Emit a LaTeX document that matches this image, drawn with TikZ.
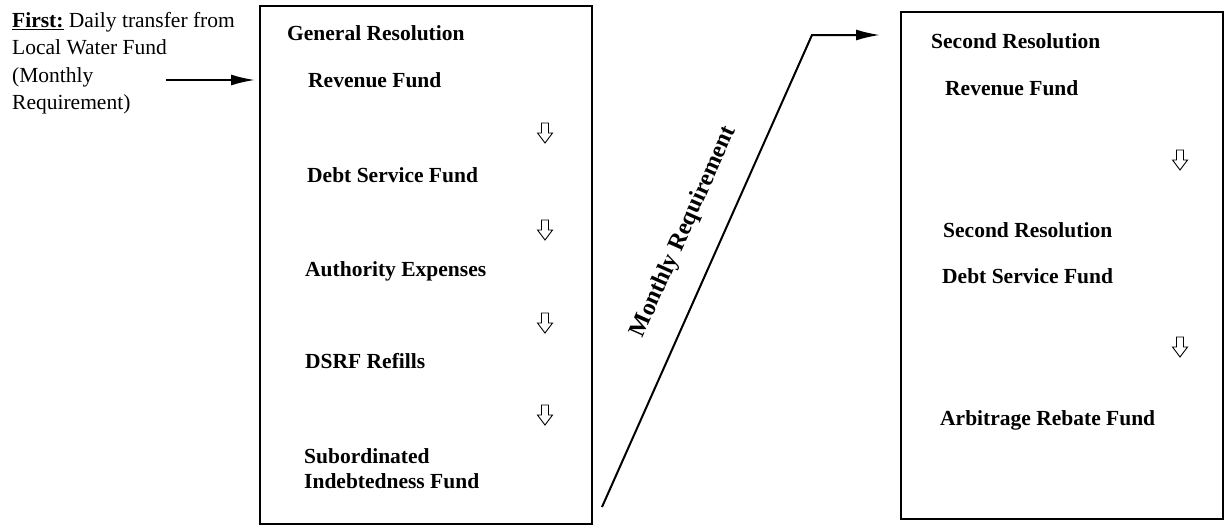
\documentclass[tikz,border=0pt]{standalone}
\usepackage{fontspec}
\setmainfont{Liberation Serif}
\usetikzlibrary{arrows.meta}
\tikzset{
  fundbox/.style={draw,line width=2pt,minimum width=#1,anchor=north west,inner sep=0pt},
  fundlabel/.style={font=\bfseries\fontsize{21.5}{25}\selectfont,anchor=base west,inner sep=0pt},
  flow/.style={line width=2pt,-{Latex[length=24pt,width=11pt]}},
  dnarrow/.pic={\draw[line width=0.9pt,fill=white] (-3.5,-10) -- (3.5,-10) -- (3.5,0) -- (7.5,0) -- (0,10) -- (-7.5,0) -- (-3.5,0) -- cycle;}
}
\begin{document}
\begin{tikzpicture}[x=1pt,y=-1pt]
  \useasboundingbox (0,0) rectangle (1227,531);
  % source text
  \node[align=left,anchor=north west,inner sep=0pt,font=\fontsize{21.5}{27.5}\selectfont] (first) at (12,12)
    {\underline{\textbf{First:}} Daily transfer from\\Local Water Fund\\(Monthly\\Requirement)};
  \coordinate (feed) at (166,80);
  % general resolution
  \node[fundbox=332pt,minimum height=518pt] (genres) at (259,5) {};
  \node[fundlabel] (gtitle) at (287,40) {General Resolution};
  \node[fundlabel] (grev) at (308,87) {Revenue Fund};
  \node[fundlabel] (gdebt) at (307,182) {Debt Service Fund};
  \node[fundlabel] (gauth) at (305,276) {Authority Expenses};
  \node[fundlabel] (gdsrf) at (305,368) {DSRF Refills};
  \node[fundlabel,align=left,anchor=north west] (gsub) at (304,448) {Subordinated\\Indebtedness Fund};
  \pic (ga1) at (545,133) {dnarrow};
  \pic (ga2) at (545,230) {dnarrow};
  \pic (ga3) at (545,323) {dnarrow};
  \pic (ga4) at (545,415) {dnarrow};
  % second resolution
  \node[fundbox=322pt,minimum height=507pt] (secres) at (900,11) {};
  \node[fundlabel] (stitle) at (931,48) {Second Resolution};
  \node[fundlabel] (srev) at (945,95) {Revenue Fund};
  \node[fundlabel] (ssec) at (943,237) {Second Resolution};
  \node[fundlabel] (sdebt) at (942,283) {Debt Service Fund};
  \node[fundlabel] (sarb) at (940,425) {Arbitrage Rebate Fund};
  \pic (sa1) at (1180,160) {dnarrow};
  \pic (sa2) at (1180,347) {dnarrow};
  % connectors
  \draw[flow] (feed) -- ([xshift=-4pt]genres.west |- feed);
  \coordinate (mstart) at (602,507);
  \coordinate (mbend) at (812,35);
  \draw[flow] (mstart) -- (mbend) -- ([xshift=-20pt]secres.west |- mbend);
  \node[rotate=66,inner sep=0pt,font=\bfseries\fontsize{24}{28}\selectfont] (mlabel) at (684,232) {Monthly Requirement};
\end{tikzpicture}
\end{document}
